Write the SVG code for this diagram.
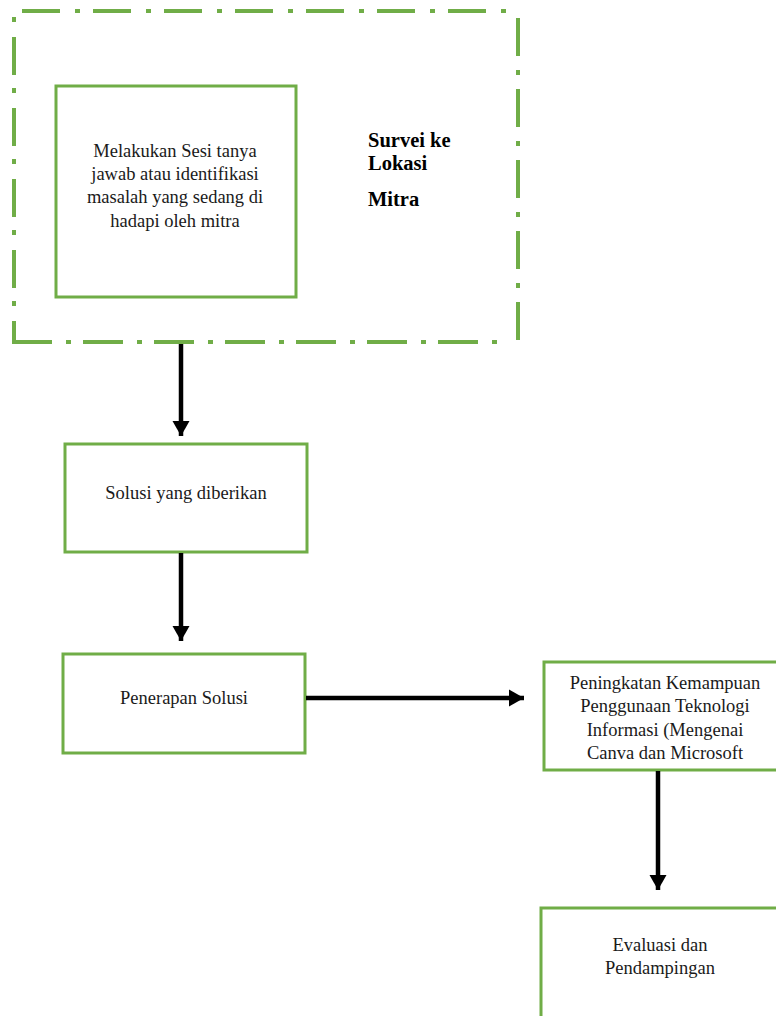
<svg xmlns="http://www.w3.org/2000/svg" width="776" height="1016" viewBox="0 0 776 1016">
<style>
.box{fill:#fff;stroke:#70AD47;stroke-width:3}
.grp{fill:none;stroke:#70AD47;stroke-width:4}
.t{font-family:"Liberation Serif",serif;font-size:18.5px;fill:#1a1a1a;text-anchor:middle}
.b{font-family:"Liberation Serif",serif;font-size:20.5px;font-weight:bold;fill:#000}
.c{stroke:#000;stroke-width:4.5;fill:none}
</style>
<defs>
<marker id="ah" markerUnits="userSpaceOnUse" markerWidth="18" markerHeight="20" refX="15" refY="9.5" orient="auto">
<path d="M0,1 L15,9.5 L0,18 Z" fill="#000"/>
</marker>
</defs>
<rect width="776" height="1016" fill="#fff"/>
<g id="survei">
<line class="grp" x1="22" y1="11" x2="506" y2="11" stroke-dasharray="38 15 5 13"/>
<line class="grp" x1="14" y1="17" x2="14" y2="342" stroke-dasharray="5 15 38 13"/>
<line class="grp" x1="12" y1="342" x2="506" y2="342" stroke-dasharray="40 14 5 12"/>
<line class="grp" x1="518" y1="18" x2="518" y2="342" stroke-dasharray="38 14 5 14"/>
<text class="b" x="368" y="147">Survei ke</text>
<text class="b" x="368" y="170">Lokasi</text>
<text class="b" x="368" y="206">Mitra</text>
</g>
<g id="sesi">
<rect class="box" x="56" y="86" width="240" height="211"/>
<text class="t" x="175" y="157">Melakukan Sesi tanya</text>
<text class="t" x="175" y="180">jawab atau identifikasi</text>
<text class="t" x="175" y="203">masalah yang sedang di</text>
<text class="t" x="175" y="227">hadapi oleh mitra</text>
</g>
<g id="solusi">
<rect class="box" x="65" y="444" width="242" height="108"/>
<text class="t" x="186" y="499">Solusi yang diberikan</text>
</g>
<g id="penerapan">
<rect class="box" x="63" y="654" width="242" height="99"/>
<text class="t" x="184" y="704">Penerapan Solusi</text>
</g>
<g id="peningkatan">
<rect class="box" x="544" y="662" width="240" height="108"/>
<text class="t" x="665" y="689">Peningkatan Kemampuan</text>
<text class="t" x="665" y="712">Penggunaan Teknologi</text>
<text class="t" x="665" y="736">Informasi (Mengenai</text>
<text class="t" x="665" y="759">Canva dan Microsoft</text>
</g>
<g id="evaluasi">
<rect class="box" x="541" y="908" width="245" height="120"/>
<text class="t" x="660" y="951">Evaluasi dan</text>
<text class="t" x="660" y="974">Pendampingan</text>
</g>
<g id="connectors">
<line class="c" x1="181" y1="344" x2="181" y2="436" marker-end="url(#ah)"/>
<line class="c" x1="181" y1="553" x2="181" y2="641" marker-end="url(#ah)"/>
<line class="c" x1="306" y1="698" x2="524" y2="698" marker-end="url(#ah)"/>
<line class="c" x1="658" y1="771" x2="658" y2="890" marker-end="url(#ah)"/>
</g>
</svg>
